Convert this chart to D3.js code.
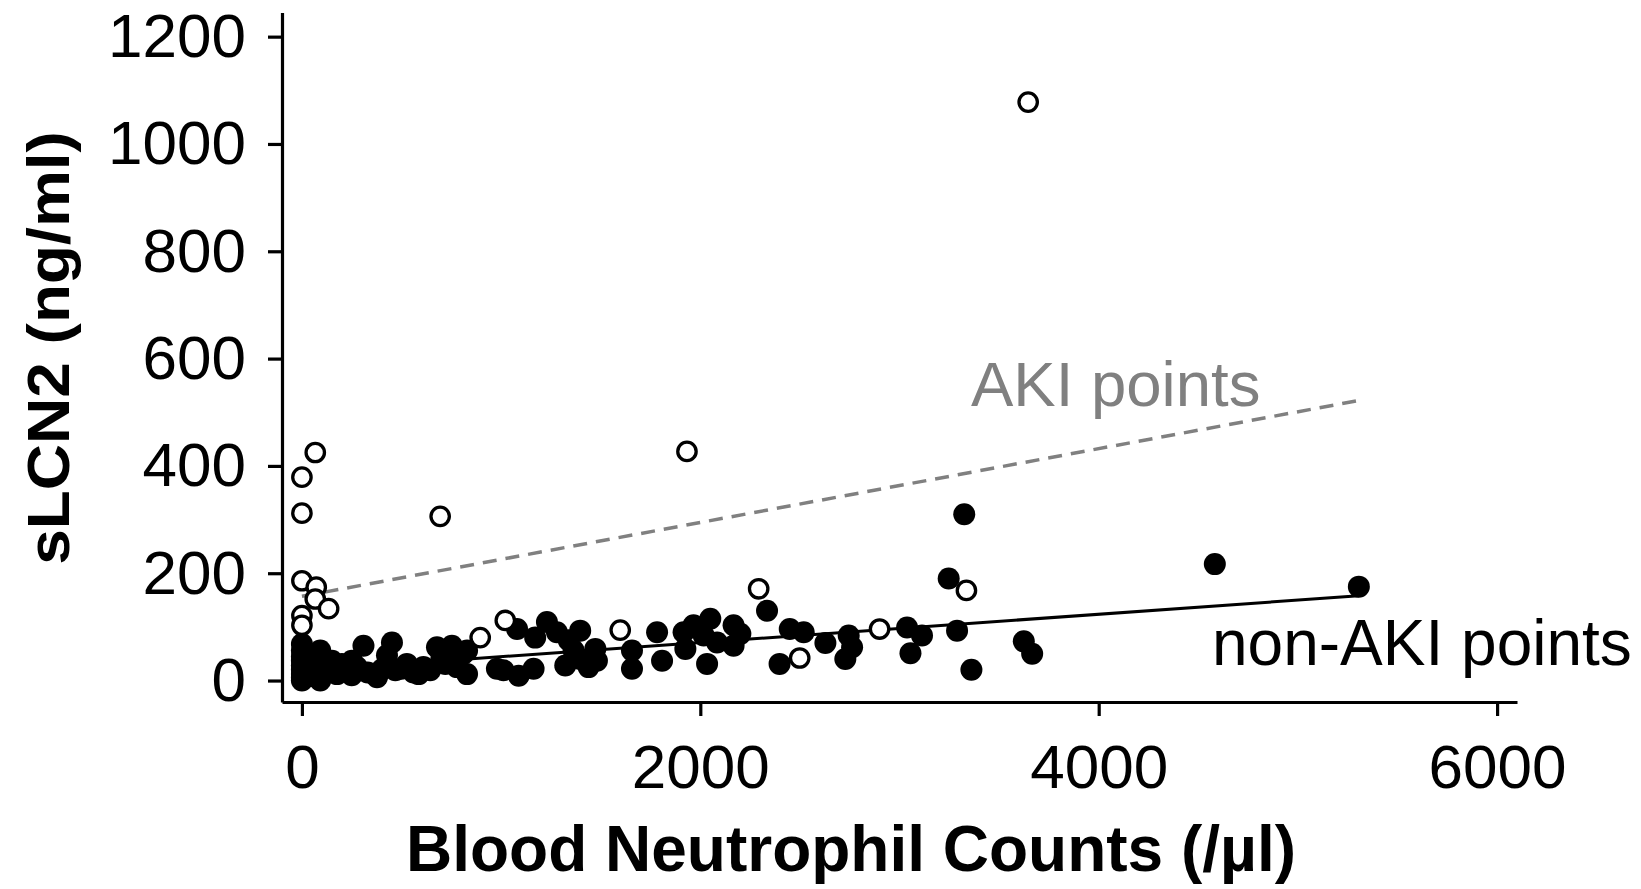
<!DOCTYPE html>
<html>
<head>
<meta charset="utf-8">
<script src="https://cdn.jsdelivr.net/npm/d3@7"></script>
<style>
  body { margin: 0; background: #fff; }
  svg { display: block; font-family: "Liberation Sans", Arial, sans-serif; }
  .axis path, .axis line { stroke: #000; stroke-width: 3.2; }
  .axis text { font-size: 62px; fill: #000; }
</style>
</head>
<body>
<svg id="chart" width="1641" height="889"></svg>
<script>
// non-AKI patients (filled dots): [neutrophils /ul, sLCN2 ng/ml]
var nonAkiPoints = [
  [0, 68], [0, 56], [0, 45], [0, 37], [0, 28], [0, 20], [0, 12], [0, 5], [0, 0],
  [20, 30], [25, 15], [30, 50], [40, 8], [50, 22], [60, 40], [70, 10], [80, 30],
  [92, 56], [100, 25], [92, 0], [120, 15], [151, 37], [176, 12], [201, 31], [226, 19],
  [251, 37], [250, 10], [276, 25], [309, 65], [330, 15], [377, 6], [400, 20], [427, 47],
  [427, 31], [452, 71], [469, 19], [500, 22], [527, 31], [560, 15], [586, 12], [610, 25],
  [644, 19], [678, 62], [700, 40], [720, 31], [753, 65], [778, 25], [811, 50], [829, 56],
  [829, 12], [979, 22], [1012, 19], [1080, 96], [1088, 9], [1163, 22], [1171, 80],
  [1230, 109], [1280, 90], [1322, 28], [1339, 75], [1364, 56], [1397, 93], [1397, 40],
  [1439, 25], [1473, 59], [1481, 37], [1657, 56], [1657, 22], [1783, 90], [1808, 37],
  [1916, 90], [1925, 59], [1966, 103], [2017, 84], [2034, 31], [2050, 115], [2084, 71],
  [2167, 103], [2167, 65], [2201, 87], [2335, 130], [2398, 31], [2449, 96], [2519, 90],
  [2628, 70], [2745, 84], [2762, 62], [2728, 40], [3038, 99], [3113, 84], [3055, 51],
  [3247, 190], [3289, 93], [3361, 20], [3624, 73], [3666, 50], [4583, 217], [3325, 310],
  [5306, 175]
]

// AKI patients (open circles)
var akiPoints = [
  [0, 379], [67, 425], [0, 312], [694, 306], [1933, 427], [0, 186], [72, 174],
  [67, 152], [134, 134], [0, 121], [0, 103], [1021, 112], [895, 80], [1598, 94],
  [2293, 171], [2499, 42], [2900, 96], [3336, 168], [3646, 1078]
]

// fitted lines (end points)
var akiFit = [[0, 157], [5306, 522]]
var nonAkiFit = [[0, 18], [5306, 158]]

var xTicks = [0, 2000, 4000, 6000]
var yTicks = [0, 200, 400, 600, 800, 1000, 1200]

var svg = d3.select('#chart')

var x = d3.scaleLinear().domain([-100, 6100]).range([282, 1517])
var y = d3.scaleLinear().domain([-40, 1245]).range([702, 12.5])

// axes
svg.append('g')
  .attr('class', 'axis')
  .attr('transform', 'translate(0,' + y.range()[0] + ')')
  .call(d3.axisBottom(x).tickValues(xTicks).tickFormat(d3.format('d'))
    .tickSize(14).tickSizeOuter(0).tickPadding(28))

svg.append('g')
  .attr('class', 'axis')
  .attr('transform', 'translate(' + x.range()[0] + ',0)')
  .call(d3.axisLeft(y).tickValues(yTicks).tickFormat(d3.format('d'))
    .tickSize(14).tickSizeOuter(0).tickPadding(22))

// drop the inline font attrs d3 puts on axis groups
svg.selectAll('.axis').attr('font-family', null).attr('font-size', null)

// fitted lines
var line = d3.line().x(d => x(d[0])).y(d => y(d[1]))

svg.append('path')
  .datum(akiFit)
  .attr('d', line)
  .attr('fill', 'none')
  .attr('stroke', '#808080')
  .attr('stroke-width', 3.5)
  .attr('stroke-dasharray', '14,9')

svg.append('path')
  .datum(nonAkiFit)
  .attr('d', line)
  .attr('fill', 'none')
  .attr('stroke', '#000')
  .attr('stroke-width', 3)

// points
svg.append('g')
  .selectAll('circle')
  .data(nonAkiPoints)
  .join('circle')
  .attr('cx', d => x(d[0]))
  .attr('cy', d => y(d[1]))
  .attr('r', 11)
  .attr('fill', '#000')

svg.append('g')
  .selectAll('circle')
  .data(akiPoints)
  .join('circle')
  .attr('cx', d => x(d[0]))
  .attr('cy', d => y(d[1]))
  .attr('r', 9.2)
  .attr('fill', '#fff')
  .attr('stroke', '#000')
  .attr('stroke-width', 3.3)

// labels
svg.append('text')
  .attr('x', 971).attr('y', 406)
  .attr('font-size', 63.5)
  .attr('fill', '#808080')
  .text('AKI points')

svg.append('text')
  .attr('x', 1212).attr('y', 665)
  .attr('font-size', 64)
  .attr('fill', '#000')
  .text('non-AKI points')

svg.append('text')
  .attr('x', 851).attr('y', 871)
  .attr('text-anchor', 'middle')
  .attr('font-size', 64)
  .attr('font-weight', 'bold')
  .text('Blood Neutrophil Counts (/\u00b5l)')

svg.append('text')
  .attr('transform', 'translate(69,348) rotate(-90) scale(1,0.93)')
  .attr('text-anchor', 'middle')
  .attr('font-size', 64)
  .attr('font-weight', 'bold')
  .text('sLCN2 (ng/ml)')
</script>
</body>
</html>
